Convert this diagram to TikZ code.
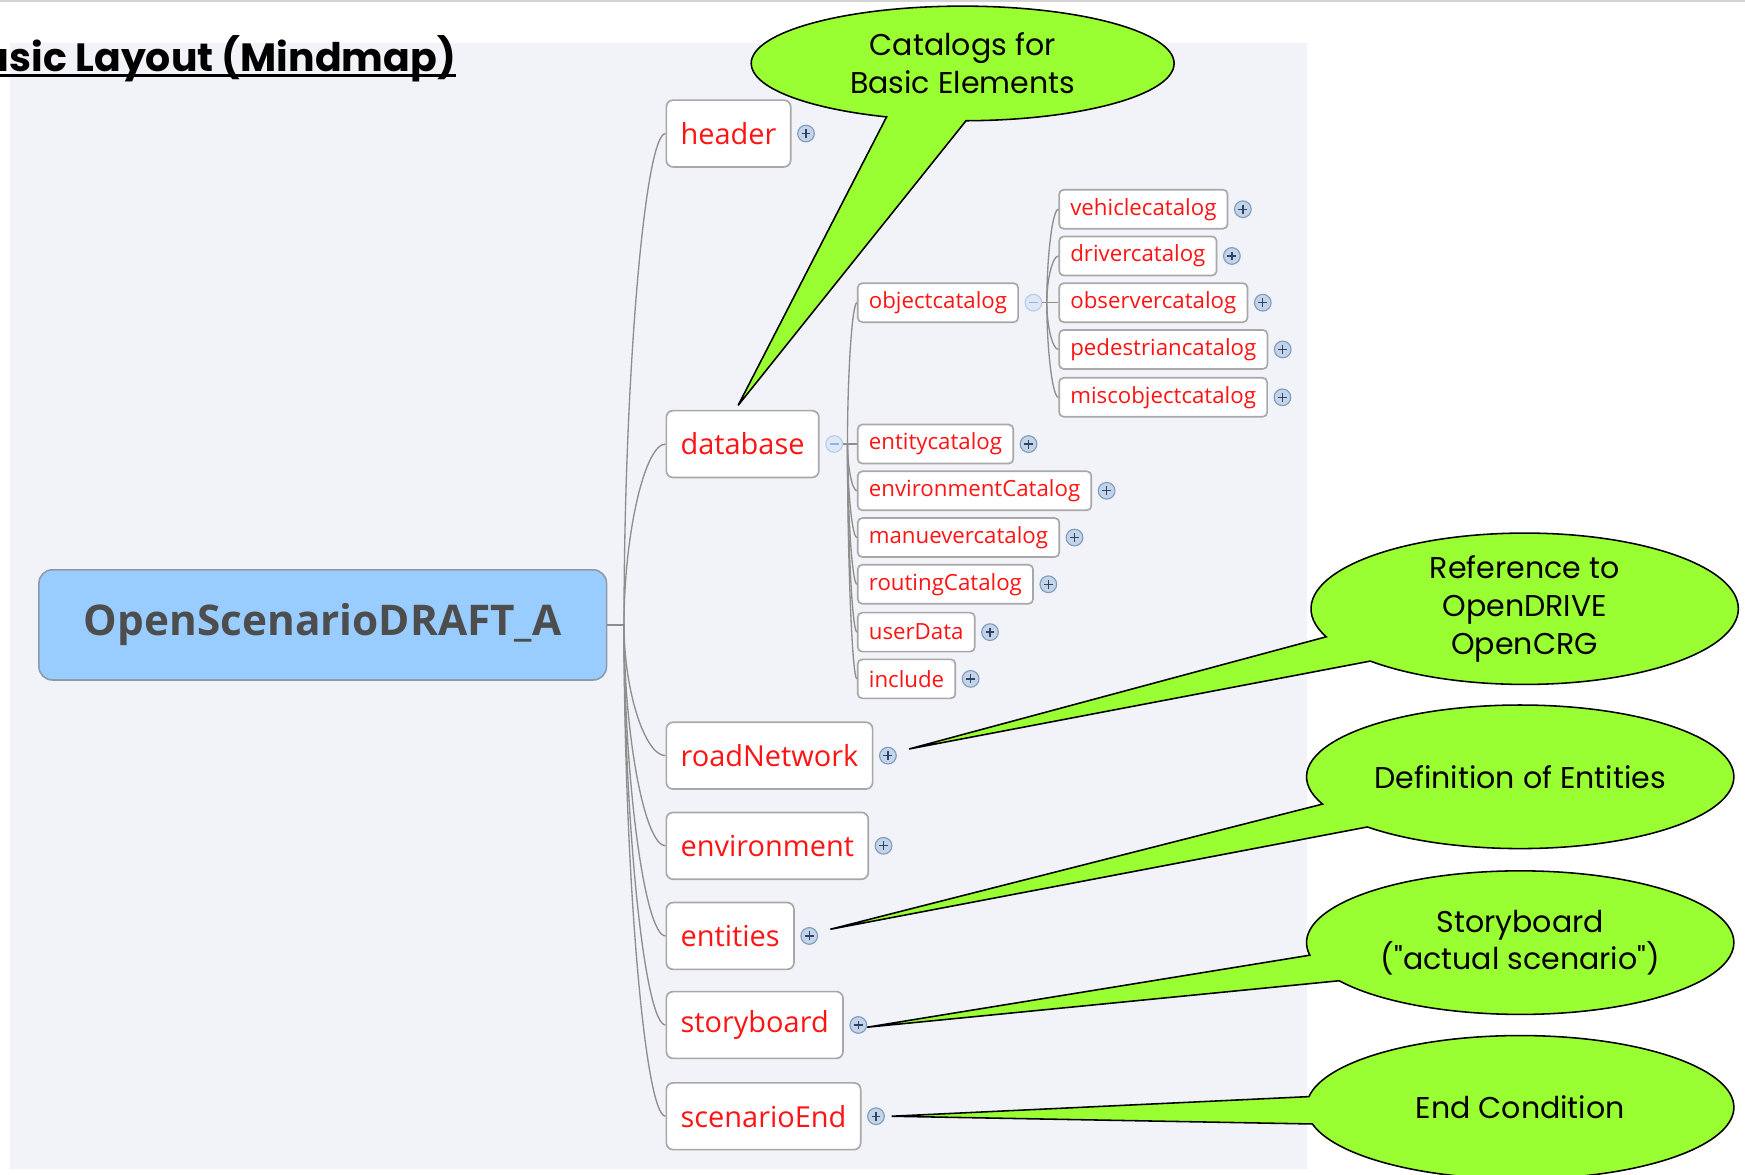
\documentclass[tikz,border=0pt]{standalone}
\usepackage{fontspec}
\usetikzlibrary{shapes.callouts,positioning,calc}

\newfontfamily\mapfont{Open Sans}
\newfontfamily\notefont{Poppins}

\definecolor{panelgray}{HTML}{F2F3F8}
\definecolor{topline}{HTML}{D4D4D4}
\definecolor{rootblue}{HTML}{99CCFF}
\definecolor{rootedge}{HTML}{8C9AAB}
\definecolor{roottext}{HTML}{4D4D4D}
\definecolor{topicred}{HTML}{FF1414}
\definecolor{boxedge}{HTML}{A8A8A8}
\definecolor{branchgray}{HTML}{8E8E8E}
\definecolor{foldfill}{HTML}{C3D3E8}
\definecolor{foldedge}{HTML}{7E9CC0}
\definecolor{foldmark}{HTML}{2E4466}
\definecolor{unfoldfill}{HTML}{DCE7F8}
\definecolor{unfoldedge}{HTML}{B7CBEA}
\definecolor{unfoldmark}{HTML}{9DB3D6}
\definecolor{notegreen}{HTML}{99FF33}

\begin{document}
\begin{tikzpicture}[x=0.5pt,y=-0.5pt,
	title/.style={
		inner sep=0pt, font=\notefont\bfseries\fontsize{17.7}{21}\selectfont
	},
	root/.style={
		rectangle, rounded corners=6pt, draw=rootedge, line width=0.7pt, fill=rootblue,
		minimum width=255pt, minimum height=49.5pt,
		font=\mapfont\bfseries\fontsize{19}{23}\selectfont, text=roottext
	},
	topic/.style={
		rectangle, rounded corners=3pt, draw=boxedge, line width=0.75pt, fill=white,
		minimum height=30pt, inner xsep=6.4pt, anchor=west,
		font=\mapfont\fontsize{13}{16}\selectfont, text=topicred
	},
	subtopic/.style={
		topic, rounded corners=2pt, minimum height=17.5pt, inner xsep=5pt,
		font=\mapfont\fontsize{10}{12}\selectfont
	},
	fold/.style={
		circle, draw=foldedge, fill=foldfill, line width=0.5pt,
		minimum size=7.5pt, inner sep=0pt,
		path picture={
			\draw[foldmark, line width=0.6pt]
				([xshift=-2pt]path picture bounding box.center) -- ([xshift=2pt]path picture bounding box.center)
				([yshift=-2pt]path picture bounding box.center) -- ([yshift=2pt]path picture bounding box.center);
		}
	},
	unfold/.style={
		circle, draw=unfoldedge, fill=unfoldfill, line width=0.5pt,
		minimum size=7.5pt, inner sep=0pt,
		path picture={
			\draw[unfoldmark, line width=0.6pt]
				([xshift=-2pt]path picture bounding box.center) -- ([xshift=2pt]path picture bounding box.center);
		}
	},
	branch/.style={
		draw=branchgray, line width=0.6pt,
		to path={.. controls ($(\tikztostart)!0.5!(\tikztostart |- \tikztotarget)$)
			and ($(\tikztotarget)!0.5!(\tikztostart |- \tikztotarget)$) .. (\tikztotarget)}
	},
	note/.style={
		ellipse callout, draw=black, line width=0.7pt, fill=notegreen,
		callout pointer arc=22, inner sep=0pt, align=center,
		minimum width=192pt, minimum height=64.5pt,
		font=\notefont\fontsize{13.5}{17}\selectfont
	}]
	% Page and background panel
	\useasboundingbox (0,0) rectangle (1568,1055);
	\clip (0,0) rectangle (1568,1055);
	\fill[white] (0,0) rectangle (1568,1055);
	\draw[topline, line width=0.8pt] (0,1) -- (1568,1);
	\fill[panelgray] (9,39) rectangle (1174,1050);
	
	% Title
	\node[title, anchor=base east] (title) at (410,64) {Basic Layout (Mindmap)};
	\draw[line width=1.3pt] ([yshift=-2pt]title.base west) -- ([yshift=-2pt]title.base east);
	
	% Central topic
	\node[root] (scenario) at (290,561.5) {OpenScenarioDRAFT\_A};
	\coordinate (hub) at ($(scenario.east)+(15,0)$);
	
	% Main topics
	\node[topic] (header) at (598,120) {header};
	\node[topic] (database) at (598,399) {database};
	\node[topic] (roadNetwork) at (598,679) {roadNetwork};
	\node[topic] (environment) at (598,760) {environment};
	\node[topic] (entities) at (598,841) {entities};
	\node[topic] (storyboard) at (598,921) {storyboard};
	\node[topic] (scenarioEnd) at (598,1003) {scenarioEnd};
	
	\node[fold, right=2.5pt of header] (header-fold) {};
	\node[unfold, right=2.5pt of database] (database-fold) {};
	\node[fold, right=2.5pt of roadNetwork] (roadNetwork-fold) {};
	\node[fold, right=2.5pt of environment] (environment-fold) {};
	\node[fold, right=2.5pt of entities] (entities-fold) {};
	\node[fold, right=2.5pt of storyboard] (storyboard-fold) {};
	\node[fold, right=2.5pt of scenarioEnd] (scenarioEnd-fold) {};
	
	% Subtopics of database
	\node[subtopic] (objectcatalog) at (770,272) {objectcatalog};
	\node[subtopic] (entitycatalog) at (770,399) {entitycatalog};
	\node[subtopic] (environmentCatalog) at (770,441) {environmentCatalog};
	\node[subtopic] (manuevercatalog) at (770,483) {manuevercatalog};
	\node[subtopic] (routingCatalog) at (770,525) {routingCatalog};
	\node[subtopic] (userData) at (770,568) {userData};
	\node[subtopic] (include) at (770,610) {include};
	
	\node[unfold, right=2.5pt of objectcatalog] (objectcatalog-fold) {};
	\node[fold, right=2.5pt of entitycatalog] (entitycatalog-fold) {};
	\node[fold, right=2.5pt of environmentCatalog] (environmentCatalog-fold) {};
	\node[fold, right=2.5pt of manuevercatalog] (manuevercatalog-fold) {};
	\node[fold, right=2.5pt of routingCatalog] (routingCatalog-fold) {};
	\node[fold, right=2.5pt of userData] (userData-fold) {};
	\node[fold, right=2.5pt of include] (include-fold) {};
	
	% Subtopics of objectcatalog
	\node[subtopic] (vehiclecatalog) at (951,188) {vehiclecatalog};
	\node[subtopic] (drivercatalog) at (951,230) {drivercatalog};
	\node[subtopic] (observercatalog) at (951,272) {observercatalog};
	\node[subtopic] (pedestriancatalog) at (951,314) {pedestriancatalog};
	\node[subtopic] (miscobjectcatalog) at (951,357) {miscobjectcatalog};
	
	\node[fold, right=2.5pt of vehiclecatalog] (vehiclecatalog-fold) {};
	\node[fold, right=2.5pt of drivercatalog] (drivercatalog-fold) {};
	\node[fold, right=2.5pt of observercatalog] (observercatalog-fold) {};
	\node[fold, right=2.5pt of pedestriancatalog] (pedestriancatalog-fold) {};
	\node[fold, right=2.5pt of miscobjectcatalog] (miscobjectcatalog-fold) {};
	
	% Branches from the central topic
	\draw[branch] (scenario.east) -- (hub);
	\draw[branch] (hub) to (header.west);
	\draw[branch] (hub) to (database.west);
	\draw[branch] (hub) to (roadNetwork.west);
	\draw[branch] (hub) to (environment.west);
	\draw[branch] (hub) to (entities.west);
	\draw[branch] (hub) to (storyboard.west);
	\draw[branch] (hub) to (scenarioEnd.west);
	
	% Branches from database
	\coordinate (dbhub) at ($(database-fold.east)+(4,0)$);
	\draw[branch] (database-fold.east) -- (dbhub);
	\draw[branch] (dbhub) to (objectcatalog.west);
	\draw[branch] (dbhub) to (entitycatalog.west);
	\draw[branch] (dbhub) to (environmentCatalog.west);
	\draw[branch] (dbhub) to (manuevercatalog.west);
	\draw[branch] (dbhub) to (routingCatalog.west);
	\draw[branch] (dbhub) to (userData.west);
	\draw[branch] (dbhub) to (include.west);
	
	% Branches from objectcatalog
	\coordinate (objhub) at ($(objectcatalog-fold.east)+(4,0)$);
	\draw[branch] (objectcatalog-fold.east) -- (objhub);
	\draw[branch] (objhub) to (vehiclecatalog.west);
	\draw[branch] (objhub) to (drivercatalog.west);
	\draw[branch] (objhub) to (observercatalog.west);
	\draw[branch] (objhub) to (pedestriancatalog.west);
	\draw[branch] (objhub) to (miscobjectcatalog.west);
	
	% Callouts
	\node[note, minimum width=190pt, minimum height=51.5pt,
		callout absolute pointer={($(database.north)+(-4,-4)$)}] (catalogs) at (865,57) {Catalogs for\\Basic Elements};
	\node[note, minimum height=68pt,
		callout absolute pointer={($(roadNetwork-fold)+(19,-6)$)}] (reference) at (1370,547) {Reference to\\OpenDRIVE\\OpenCRG};
	\node[note, callout absolute pointer={($(entities-fold)+(19,-6)$)}] (definition) at (1366,698) {Definition of Entities};
	\node[note, callout absolute pointer={($(storyboard-fold)+(8,2)$)}] (story) at (1366,847) {Storyboard\\("actual scenario")};
	\node[note, callout absolute pointer={($(scenarioEnd-fold)+(14,0)$)}] (endcond) at (1366,995) {End Condition};
\end{tikzpicture}
\end{document}
